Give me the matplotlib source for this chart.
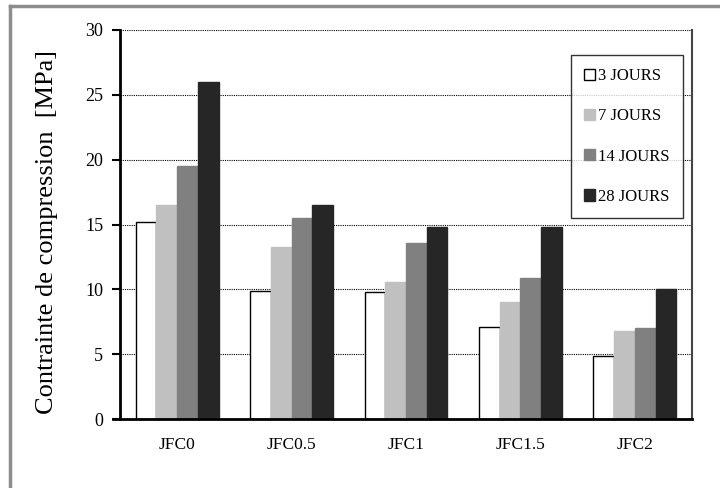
import matplotlib.pyplot as plt
import numpy as np

plt.rcParams['font.family'] = ['Liberation Serif', 'DejaVu Serif']

categories = ['JFC0', 'JFC0.5', 'JFC1', 'JFC1.5', 'JFC2']
series_labels = ['3 JOURS', '7 JOURS', '14 JOURS', '28 JOURS']
j3 = [15.2, 9.9, 9.8, 7.1, 4.85]
j7 = [16.5, 13.3, 10.6, 9.05, 6.8]
j14 = [19.5, 15.5, 13.6, 10.9, 7.0]
j28 = [26.0, 16.5, 14.8, 14.8, 10.0]

series = [j3, j7, j14, j28]
colors = ['white', '#c0c0c0', '#808080', '#262626']
edges = ['black', '#c0c0c0', '#808080', '#262626']

fig = plt.figure(figsize=(7.2, 4.88), dpi=100)
ax = fig.add_axes([120 / 720, 1 - 419 / 488, 572 / 720, 389 / 488])

x = np.arange(len(categories))
w = 0.181
for i, vals in enumerate(series):
    ax.bar(x + (i - 1.5) * w, vals, width=w, color=colors[i], edgecolor=edges[i],
           linewidth=1.0, label=series_labels[i], zorder=3)

ax.set_xlim(-0.5, len(categories) - 0.5)
ax.set_ylim(0, 30)
ax.set_yticks(range(0, 31, 5))
ax.set_xticks(x)
ax.set_xticklabels(categories, fontsize=12.5)
ax.tick_params(axis='x', length=0, pad=13)
ax.tick_params(axis='y', direction='out', length=6, width=1.5, labelsize=13, pad=6)

ax.yaxis.grid(True, color='black', linestyle=(0, (1, 1)), linewidth=0.8, zorder=0)
ax.set_axisbelow(True)

ax.spines['top'].set_visible(False)
ax.spines['bottom'].set_visible(False)
ax.spines['left'].set_linewidth(2)
ax.spines['right'].set_linewidth(1.5)
ax.spines['right'].set_color('#444444')
ax.axhline(0, xmin=-0.012, xmax=1.0, color='black', linewidth=2, clip_on=False, zorder=4)

ax.set_ylabel('Contrainte de compression  [MPa]', fontsize=19)
ax.yaxis.set_label_coords(-0.108, 0.48)

leg = ax.legend(loc='upper left', bbox_to_anchor=(571 / 720, 1 - 55 / 488),
                bbox_transform=fig.transFigure, fontsize=12, frameon=True,
                fancybox=False, edgecolor='black', labelspacing=1.45,
                handlelength=0.65, handleheight=0.65, handletextpad=0.15,
                borderpad=0.8, borderaxespad=0)
leg.get_frame().set_linewidth(1.0)
leg.set_zorder(5)

# outer frame (top and left edges)
fig.add_artist(plt.Line2D([10 / 720, 1.0], [1 - 6 / 488, 1 - 6 / 488], color='#8c8c8c', linewidth=2.5))
fig.add_artist(plt.Line2D([10 / 720, 10 / 720], [0, 1 - 6 / 488], color='#8c8c8c', linewidth=2.5))

fig.savefig('out.png', dpi=100)
